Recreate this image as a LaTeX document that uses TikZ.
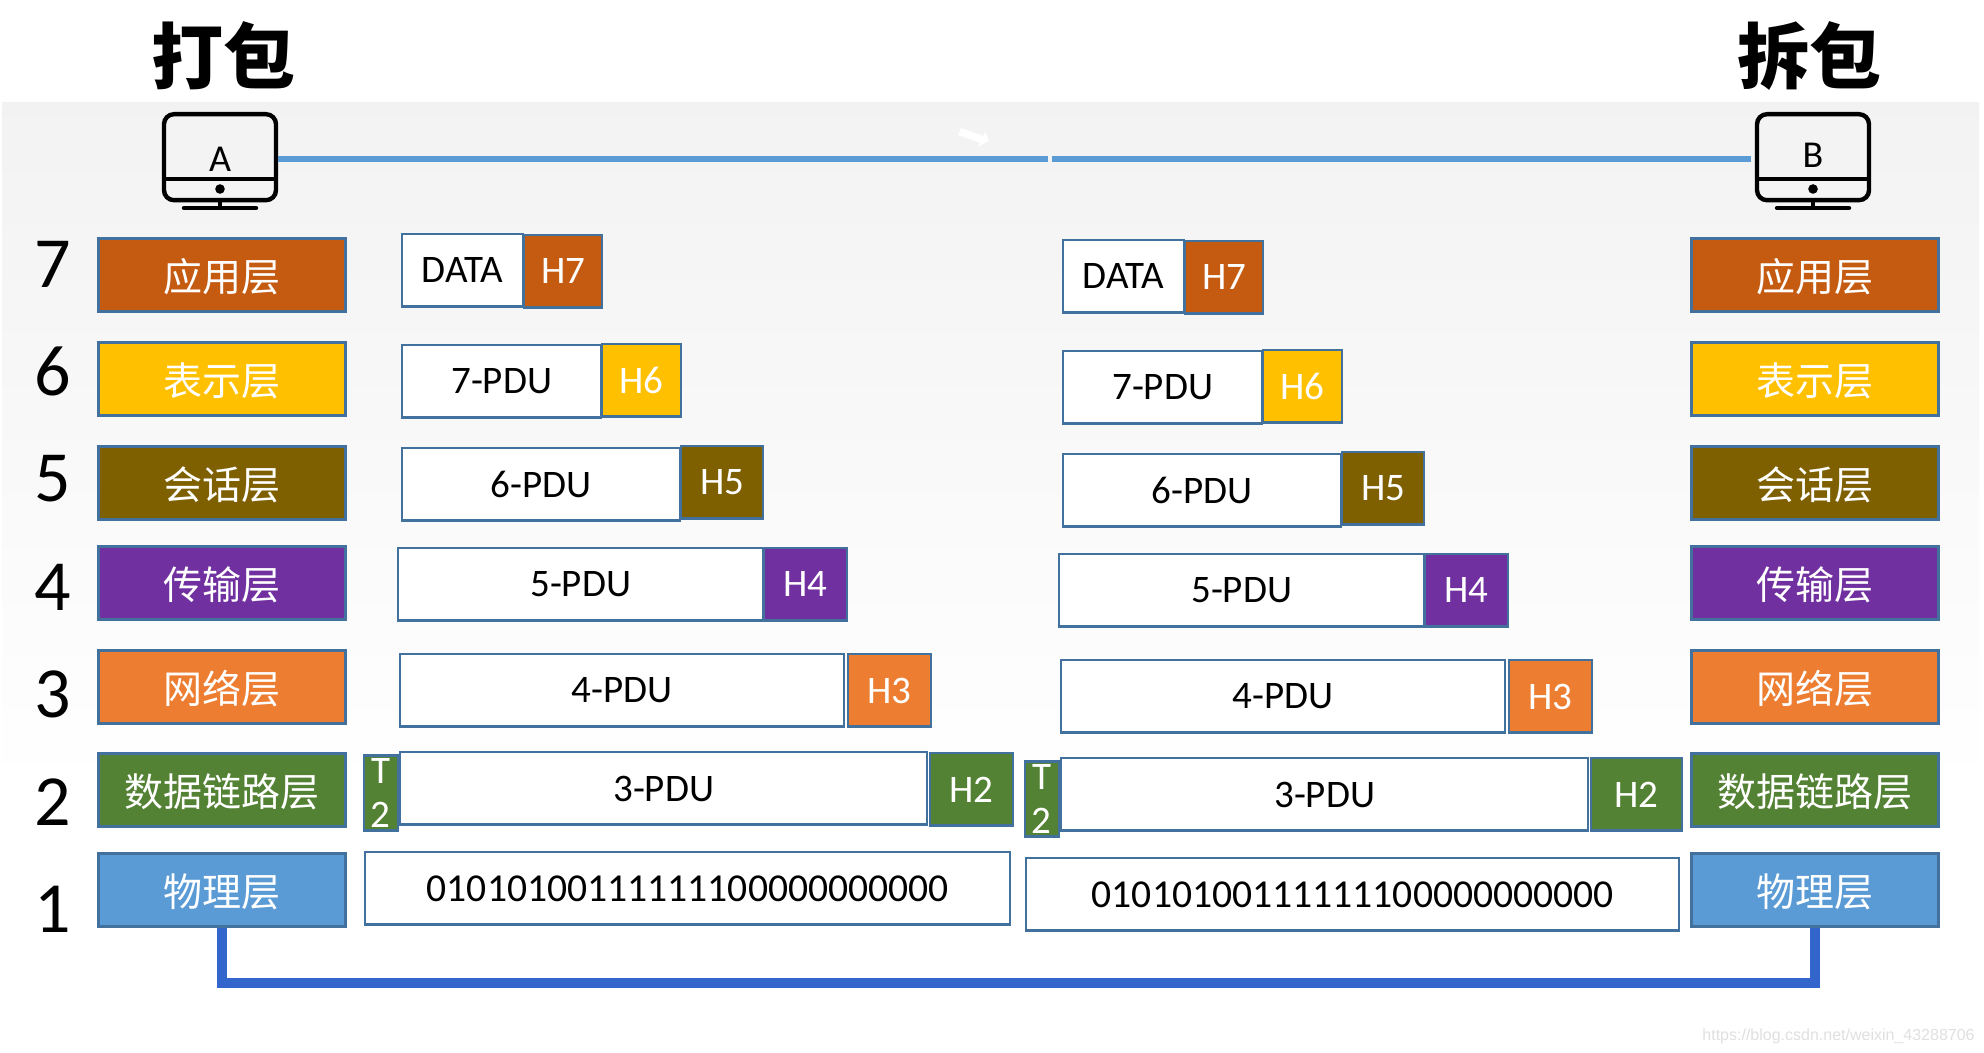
\documentclass[tikz,border=0pt]{standalone}
\usepackage{fontspec}
\setmainfont{Carlito}
\newfontfamily\cjk{Noto Sans CJK SC}
\newfontfamily\wmfont{Liberation Sans}
\usetikzlibrary{positioning}
\definecolor{edgeblue}{HTML}{41719C}
\definecolor{linkblue}{HTML}{5B9BD5}
\definecolor{busblue}{HTML}{3366CC}
\definecolor{appcol}{HTML}{C55A11}
\definecolor{precol}{HTML}{FFC000}
\definecolor{sescol}{HTML}{7F6000}
\definecolor{tracol}{HTML}{7030A0}
\definecolor{netcol}{HTML}{ED7D31}
\definecolor{dllcol}{HTML}{548235}
\definecolor{phycol}{HTML}{5B9BD5}
\tikzset{
    layerbox/.style={draw=edgeblue,line width=1.5pt,minimum width=123.5pt,minimum height=36.2pt,inner sep=0pt,text=white,text depth=-2pt,font=\cjk\fontsize{19.5}{19}\selectfont},
    pdubox/.style={draw=edgeblue,line width=1.2pt,fill=white,minimum height=36.2pt,inner sep=0pt,text depth=-1pt,font=\fontsize{19.5}{19}\selectfont},
    headbox/.style={draw=edgeblue,line width=1.2pt,minimum height=36.2pt,inner sep=0pt,text=white,text depth=-1pt,font=\fontsize{19.5}{19}\selectfont},
    trailbox/.style={draw=edgeblue,line width=1.2pt,fill=dllcol,minimum width=17pt,minimum height=37.5pt,inner sep=0pt,text=white,align=center,font=\fontsize{19.5}{22}\selectfont},
    numlabel/.style={font=\fontsize{36}{36}\selectfont,inner sep=0pt},
    titlelabel/.style={font=\cjk\bfseries\fontsize{36}{36}\selectfont,inner sep=0pt},
    screen/.style={draw=black,line width=2.2pt,rounded corners=5pt,minimum width=56pt,minimum height=43pt,inner sep=0pt},
    link/.style={draw=linkblue,line width=3pt},
    bus/.style={draw=busblue,line width=4.8pt},
}
% #1 name, #2 left edge, #3 top edge, #4 width, #5 text
\newcommand\pdu[5]{\node(#1)[pdubox,anchor=north west,minimum width=#4*.5pt] at (#2,#3) {#5};}
% #1 name, #2 left edge, #3 top edge, #4 width, #5 fill, #6 text
\newcommand\hdr[6]{\node(#1)[headbox,anchor=north west,fill=#5,minimum width=#4*.5pt] at (#2,#3) {#6};}
% #1 name, #2 centre x, #3 letter, #4 letter y
\newcommand\monitor[4]{
    \node(#1)[screen,anchor=north] at (#2,112) {};
    \node(#1txt)[inner sep=0pt,font=\fontsize{19}{19}\selectfont] at (#2,#4) {#3};
    \draw[black,line width=2.2pt] (#1.west |- 0,179) -- (#1.east |- 0,179);
    \fill[black] (#2,189) circle (2.4pt);
    \draw[black,line width=2pt] (#1.south) -- (#2,207);
    \draw[black,line width=2.2pt,line cap=round] (#2-36,208) -- (#2+36,208);
}

\begin{document}
\begin{tikzpicture}[x=.5pt,y=-.5pt]
    \useasboundingbox (0,0) rectangle (1984,1053);
    \fill[white] (0,0) rectangle (1984,1053);
    \shade[top color=black!5,bottom color=white] (2,103) rectangle (1979,790);

    \node(pack)[titlelabel] at (223,56) {打包};
    \node(unpack)[titlelabel] at (1809,56) {拆包};

    \monitor{mona}{220}{A}{159}
    \monitor{monb}{1813}{B}{155}
    \coordinate(gapl) at (1048,159);
    \coordinate(gapr) at (1052,159);
    \draw[link] (mona.east |- gapl) -- (gapl);
    \draw[link] (gapr) -- (1751,159);
    % small pointer above the link
    \fill[white] (958,135) -- (961,128) -- (984,136) -- (985,131) -- (989,141) -- (977,147) -- (980,143) -- cycle;

    % layer numbers
    \node(n7)[numlabel] at (53,264) {7};
    \node(n6)[numlabel] at (53,371) {6};
    \node(n5)[numlabel] at (53,479) {5};
    \node(n4)[numlabel] at (53,587) {4};
    \node(n3)[numlabel] at (53,694) {3};
    \node(n2)[numlabel] at (53,802) {2};
    \node(n1)[numlabel] at (53,909) {1};

    % sending stack
    \node(lapp)[layerbox,fill=appcol] at (222,275) {应用层};
    \node(lpre)[layerbox,fill=precol] at (222,379) {表示层};
    \node(lses)[layerbox,fill=sescol] at (222,483) {会话层};
    \node(ltra)[layerbox,fill=tracol] at (222,583) {传输层};
    \node(lnet)[layerbox,fill=netcol] at (222,687) {网络层};
    \node(ldll)[layerbox,fill=dllcol] at (222,790) {数据链路层};
    \node(lphy)[layerbox,fill=phycol] at (222,890) {物理层};

    % receiving stack
    \node(rapp)[layerbox,fill=appcol] at (1815,275) {应用层};
    \node(rpre)[layerbox,fill=precol] at (1815,379) {表示层};
    \node(rses)[layerbox,fill=sescol] at (1815,483) {会话层};
    \node(rtra)[layerbox,fill=tracol] at (1815,583) {传输层};
    \node(rnet)[layerbox,fill=netcol] at (1815,687) {网络层};
    \node(rdll)[layerbox,fill=dllcol] at (1815,790) {数据链路层};
    \node(rphy)[layerbox,fill=phycol] at (1815,890) {物理层};

    \coordinate(busy) at (1018,983);
    \draw[bus] (lphy.south) |- (busy) -| (rphy.south);

    % left data units
    \pdu{ld7}{401}{233}{121}{DATA}  \hdr{lh7}{523}{234}{78}{appcol}{H7}
    \pdu{ld6}{401}{344}{199}{7-PDU} \hdr{lh6}{601}{343}{79}{precol}{H6}
    \pdu{ld5}{401}{447}{278}{6-PDU} \hdr{lh5}{680}{445}{82}{sescol}{H5}
    \pdu{ld4}{397}{547}{365}{5-PDU} \hdr{lh4}{763}{547}{83}{tracol}{H4}
    \pdu{ld3}{399}{653}{444}{4-PDU} \hdr{lh3}{847}{653}{83}{netcol}{H3}
    \pdu{ld2}{399}{751}{527}{3-PDU} \hdr{lh2}{929}{752}{83}{dllcol}{H2}
    \node(lt2)[trailbox,anchor=east] at (ld2.west |- 0,793) {T\\2};
    \pdu{ld1}{364}{851}{645}{\fontsize{19.8}{19}\selectfont 01010100111111100000000000}

    % right data units
    \pdu{rd7}{1062}{239}{121}{DATA}  \hdr{rh7}{1184}{240}{78}{appcol}{H7}
    \pdu{rd6}{1062}{350}{199}{7-PDU} \hdr{rh6}{1262}{349}{79}{precol}{H6}
    \pdu{rd5}{1062}{453}{278}{6-PDU} \hdr{rh5}{1341}{451}{82}{sescol}{H5}
    \pdu{rd4}{1058}{553}{365}{5-PDU} \hdr{rh4}{1424}{553}{83}{tracol}{H4}
    \pdu{rd3}{1060}{659}{444}{4-PDU} \hdr{rh3}{1508}{659}{83}{netcol}{H3}
    \pdu{rd2}{1060}{757}{527}{3-PDU} \hdr{rh2}{1590}{757}{91}{dllcol}{H2}
    \node(rt2)[trailbox,anchor=east] at (rd2.west |- 0,799) {T\\2};
    \pdu{rd1}{1025}{857}{653}{\fontsize{19.8}{19}\selectfont 01010100111111100000000000}

    \node(wm)[anchor=east,inner sep=0pt,text=black!12,font=\wmfont\fontsize{8}{9}\selectfont] at (1975,1036) {https://blog.csdn.net/weixin\_43288706};
\end{tikzpicture}
\end{document}
